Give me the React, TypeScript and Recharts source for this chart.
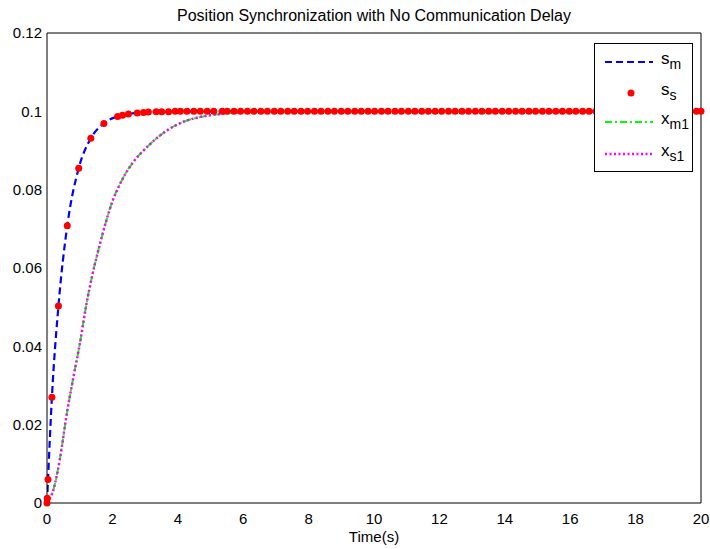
import { LineChart, Line, XAxis, YAxis } from "recharts";

const FONT = '"Liberation Sans", Arial, sans-serif';

// s_m / s_s: solver output points (transient part)
const sTime = [0, 0.006, 0.031, 0.15, 0.35, 0.62, 0.97, 1.34, 1.74, 2.16, 2.31, 2.49, 2.76, 2.95, 3.1, 3.34, 3.51, 3.72];
const sVal = [0, 0.0012, 0.006, 0.027, 0.0503, 0.0708, 0.0855, 0.0931, 0.0969, 0.0987, 0.099, 0.0993, 0.0996, 0.0997, 0.0998, 0.0999, 0.0999, 0.0999];
// steady part, all sitting at 0.1
const sTailTime = [
  3.92, 4.08, 4.28, 4.49, 4.69, 4.9, 5.1, 5.36, 5.51, 5.72, 5.92, 6.13, 6.33, 6.54, 6.74, 6.95, 7.15, 7.36, 7.56, 7.77,
  7.97, 8.18, 8.38, 8.59, 8.79, 9.0, 9.2, 9.41, 9.61, 9.82, 10.02, 10.23, 10.43, 10.64, 10.84, 11.05, 11.25, 11.46,
  11.66, 11.87, 12.07, 12.28, 12.48, 12.69, 12.89, 13.1, 13.3, 13.51, 13.71, 13.92, 14.12, 14.33, 14.53, 14.74, 14.94,
  15.15, 15.35, 15.56, 15.76, 15.97, 16.17, 16.38, 16.58, 16.79, 16.99, 17.2, 17.4, 17.61, 17.81, 18.02, 18.22, 18.43,
  18.63, 18.84, 19.04, 19.25, 19.45, 19.66, 19.86, 20,
];
const sSteady = 0.1;

// x_m1 / x_s1 (the two curves lie on top of each other)
const xTime = [0, 0.2, 0.4, 0.6, 0.8, 1.0, 1.2, 1.4, 1.6, 1.8, 2.0, 2.2, 2.4, 2.6, 2.8, 3.0, 3.2, 3.5, 4.0, 4.5, 5.0, 5.5, 6.0, 7, 8, 10, 12, 14, 16, 18, 20];
const xm1Val = [0, 0.0035, 0.0115, 0.0225, 0.0318, 0.0405, 0.0505, 0.0587, 0.0655, 0.0717, 0.077, 0.0809, 0.0841, 0.0866, 0.0887, 0.0904, 0.092, 0.0941, 0.0967, 0.0982, 0.099, 0.0995, 0.0998, 0.1, 0.1, 0.1, 0.1, 0.1, 0.1, 0.1, 0.1];
const xs1Val = [0, 0.0035, 0.0115, 0.0225, 0.0318, 0.0405, 0.0505, 0.0587, 0.0655, 0.0717, 0.077, 0.0809, 0.0841, 0.0866, 0.0887, 0.0904, 0.092, 0.0941, 0.0967, 0.0982, 0.099, 0.0995, 0.0998, 0.1, 0.1, 0.1, 0.1, 0.1, 0.1, 0.1, 0.1];

const xTicks = [0, 2, 4, 6, 8, 10, 12, 14, 16, 18, 20];
const yTicks = [0, 0.02, 0.04, 0.06, 0.08, 0.1, 0.12];

const sData = [
  ...sTime.map((t, i) => ({ t, v: sVal[i] })),
  ...sTailTime.map((t) => ({ t, v: sSteady })),
];
const xmData = xTime.map((t, i) => ({ t, v: xm1Val[i] }));
const xsData = xTime.map((t, i) => ({ t, v: xs1Val[i] }));

const tickStyle = { fill: "#000", fontSize: 15, fontFamily: FONT };
const fmtY = (v: number) => String(Number(v.toFixed(2)));

function LegendRow({ top, sample, main, sub }: { top: number; sample: React.ReactNode; main: string; sub: string }) {
  return (
    <div style={{ position: "absolute", left: 0, top, height: 20, width: 99 }}>
      <svg width={56} height={20} style={{ position: "absolute", left: 8, top: 0 }}>{sample}</svg>
      <span style={{ position: "absolute", left: 66, top: -3, fontSize: 17, lineHeight: "20px", whiteSpace: "nowrap" }}>
        {main}
        <span style={{ fontSize: 14, position: "relative", top: 5 }}>{sub}</span>
      </span>
    </div>
  );
}

export default function App() {
  return (
    <div style={{ position: "absolute", left: 0, top: 0, width: 710, height: 549, background: "#fff", fontFamily: FONT }}>
      <LineChart width={710} height={549} margin={{ top: 33, right: 9, bottom: 6, left: 7 }}>
        <XAxis dataKey="t" type="number" domain={[0, 20]} ticks={xTicks} allowDataOverflow
          tick={tickStyle} tickLine={false} tickSize={0} tickMargin={10} height={40}
          axisLine={{ stroke: "#000" }}
          label={{ value: "Time(s)", position: "insideBottom", offset: 1, fill: "#000", fontSize: 15, fontFamily: FONT }} />
        <XAxis xAxisId="bm" dataKey="t" type="number" domain={[0, 20]} ticks={xTicks} allowDataOverflow
          orientation="bottom" mirror tick={false} axisLine={false} tickLine={{ stroke: "#000" }} tickSize={5} />
        <XAxis xAxisId="tm" dataKey="t" type="number" domain={[0, 20]} ticks={xTicks} allowDataOverflow
          orientation="top" mirror tick={false} axisLine={{ stroke: "#000" }} tickLine={{ stroke: "#000" }} tickSize={5} />
        <YAxis type="number" domain={[0, 0.12]} ticks={yTicks} allowDataOverflow width={40}
          tick={tickStyle} tickFormatter={fmtY} tickLine={false} tickSize={0} tickMargin={5}
          axisLine={{ stroke: "#000" }} />
        <YAxis yAxisId="lm" type="number" domain={[0, 0.12]} ticks={yTicks} allowDataOverflow
          orientation="left" mirror tick={false} axisLine={false} tickLine={{ stroke: "#000" }} tickSize={5} />
        <YAxis yAxisId="rm" type="number" domain={[0, 0.12]} ticks={yTicks} allowDataOverflow
          orientation="right" mirror tick={false} axisLine={{ stroke: "#000" }} tickLine={{ stroke: "#000" }} tickSize={5} />

        <Line data={sData} dataKey="v" name="s_m" type="monotone" stroke="#0000ff" strokeWidth={2.2}
          strokeDasharray="7 4" dot={false} isAnimationActive={false} />
        <Line data={sData} dataKey="v" name="s_s" type="monotone" stroke="none"
          dot={{ r: 3.5, fill: "#ff0000", stroke: "none", clipDot: false }} isAnimationActive={false} />
        <Line data={xmData} dataKey="v" name="x_m1" type="monotone" stroke="#00ff00" strokeWidth={2}
          strokeDasharray="7 3 2 3" dot={false} isAnimationActive={false} />
        <Line data={xsData} dataKey="v" name="x_s1" type="monotone" stroke="#ff00ff" strokeWidth={2.5}
          strokeDasharray="2 2.5" dot={false} isAnimationActive={false} />
      </LineChart>

      <div style={{ position: "absolute", left: 47, width: 654, top: 6, textAlign: "center", fontSize: 16, lineHeight: "19px" }}>
        Position Synchronization with No Communication Delay
      </div>

      <div style={{ position: "absolute", left: 594, top: 43, width: 97, height: 127, border: "1px solid #000", background: "#fff" }}>
        <LegendRow top={8} main="s" sub="m"
          sample={<line x1={2} y1={10} x2={50} y2={10} stroke="#0000ff" strokeWidth={2.2} strokeDasharray="7 4" />} />
        <LegendRow top={39} main="s" sub="s"
          sample={<circle cx={28} cy={10} r={3.5} fill="#ff0000" />} />
        <LegendRow top={68} main="x" sub="m1"
          sample={<line x1={2} y1={10} x2={50} y2={10} stroke="#00ff00" strokeWidth={2} strokeDasharray="7 3 2 3" />} />
        <LegendRow top={100} main="x" sub="s1"
          sample={<line x1={2} y1={10} x2={50} y2={10} stroke="#ff00ff" strokeWidth={2.5} strokeDasharray="2 2.5" />} />
      </div>
    </div>
  );
}
